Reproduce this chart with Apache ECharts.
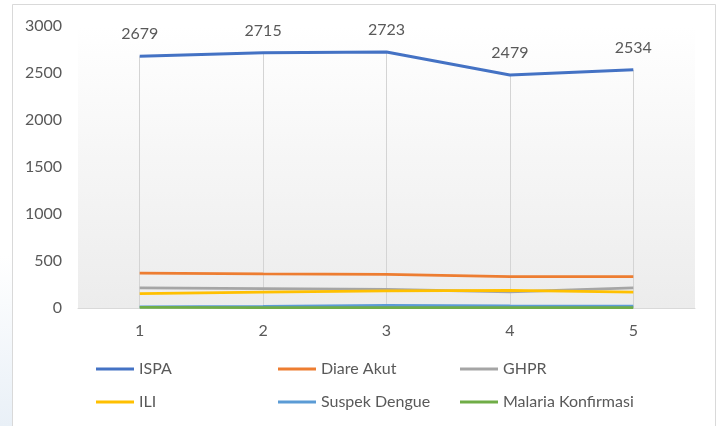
<!DOCTYPE html>
<html>
<head>
<meta charset="utf-8">
<script src="https://cdn.jsdelivr.net/npm/echarts@6/dist/echarts.min.js"></script>
<style>
html,body{margin:0;padding:0;background:#fff;}
#c{width:721px;height:426px;}
</style>
</head>
<body>
<div id="c"></div>
<script>
const categories = ['1', '2', '3', '4', '5'];
const ispa = [2679, 2715, 2723, 2479, 2534];
const diareAkut = [372, 362, 357, 334, 334];
const ghpr = [213, 206, 199, 172, 213];
const ili = [153, 170, 181, 188, 170];
const suspekDengue = [12, 18, 28, 22, 20];
const malariaKonfirmasi = [6, 5, 4, 5, 4];
const seriesNames = ['ISPA', 'Diare Akut', 'GHPR', 'ILI', 'Suspek Dengue', 'Malaria Konfirmasi'];
const yTicks = { min: 0, max: 3000, interval: 500 };

const colors = ['#4472C4', '#ED7D31', '#A5A5A5', '#FFC000', '#5B9BD5', '#70AD47'];
const values = [ispa, diareAkut, ghpr, ili, suspekDengue, malariaKonfirmasi];
const FONT = 'Lato';
const TXT = '#595959';

const chart = echarts.init(document.getElementById('c'), null, { renderer: 'canvas' });

const series = seriesNames.map((name, k) => {
  const s = {
    name: name,
    type: 'line',
    data: values[k],
    symbol: 'circle',
    symbolSize: 0,
    showSymbol: true,
    lineStyle: { color: colors[k], width: k === 0 ? 3 : 2.75 },
    itemStyle: { color: colors[k] },
    z: 3 + k,
    animation: false
  };
  if (k === 0) {
    s.label = {
      show: true, position: 'top', distance: 14,
      fontFamily: FONT, fontSize: 16, color: TXT
    };
    s.markLine = {
      silent: true,
      symbol: ['none', 'none'],
      z: 1,
      label: { show: false },
      lineStyle: { color: '#d4d4d4', width: 1, type: 'solid' },
      animation: false,
      data: categories.map((c, i) => [{ coord: [c, 0] }, { coord: [c, ispa[i]] }])
    };
  }
  return s;
});

const legendPos = [
  { left: 96, top: 361 }, { left: 278, top: 361 }, { left: 460, top: 361 },
  { left: 96, top: 394 }, { left: 278, top: 394 }, { left: 460, top: 394 }
];
const legends = seriesNames.map((name, k) => ({
  data: [name],
  left: legendPos[k].left,
  top: legendPos[k].top,
  padding: 0,
  icon: 'rect',
  itemWidth: 38,
  itemHeight: 3,
  selectedMode: false,
  textStyle: { fontFamily: FONT, fontSize: 16, color: TXT, padding: [0, 0, 0, 0] }
}));

chart.setOption({
  animation: false,
  backgroundColor: '#ffffff',
  graphic: [
    {
      type: 'rect', silent: true, z: -10,
      shape: { x: 0, y: 0, width: 12, height: 426 },
      style: {
        fill: new echarts.graphic.LinearGradient(0, 0, 0, 1, [
          { offset: 0, color: '#ffffff' }, { offset: 0.6, color: '#ffffff' }, { offset: 1, color: '#e9f0f7' }
        ])
      }
    },
    {
      type: 'rect', silent: true, z: 100,
      shape: { x: 12.5, y: 4.5, width: 703, height: 440 },
      style: { fill: 'none', stroke: '#d9d9d9', lineWidth: 1 }
    }
  ],
  grid: {
    left: 78, right: 26, top: 26, bottom: 118,
    show: true, borderWidth: 0,
    backgroundColor: new echarts.graphic.LinearGradient(0, 0, 0, 1, [
      { offset: 0, color: '#ffffff' }, { offset: 1, color: '#ececec' }
    ])
  },
  legend: legends,
  xAxis: {
    type: 'category',
    data: categories,
    boundaryGap: true,
    axisTick: { show: false },
    axisLine: { lineStyle: { color: '#d9d9d9', width: 1 } },
    splitLine: { show: false },
    axisLabel: { fontFamily: FONT, fontSize: 16, color: TXT, margin: 15 }
  },
  yAxis: {
    type: 'value',
    min: yTicks.min, max: yTicks.max, interval: yTicks.interval,
    axisLine: { show: false },
    axisTick: { show: false },
    splitLine: { show: false },
    axisLabel: {
      fontFamily: FONT, fontSize: 16, color: TXT, margin: 16,
      formatter: (v) => String(v)
    }
  },
  series: series
});
</script>
</body>
</html>
